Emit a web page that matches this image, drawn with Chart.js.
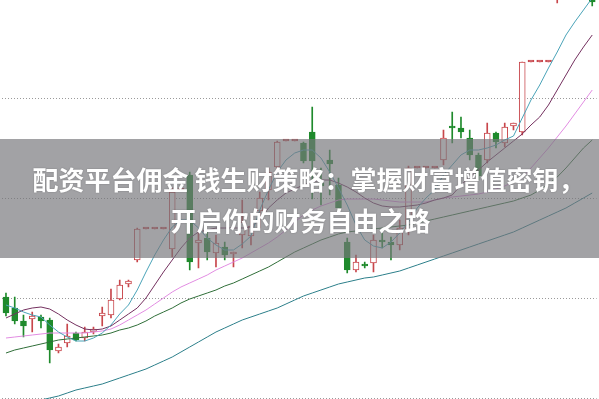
<!DOCTYPE html>
<html>
<head>
<meta charset="utf-8">
<script src="https://cdn.jsdelivr.net/npm/chart.js@4.4.1/dist/chart.umd.min.js"></script>
<style>
  html, body { margin: 0; padding: 0; background: #fff; }
  #wrap { position: relative; width: 599px; height: 399px; overflow: hidden; }
  #banner {
    position: absolute; left: 0; top: 139px; width: 599px; height: 119px;
    background: rgba(118, 118, 123, 0.68);
    color: #fff; font-family: "Noto Sans CJK SC", sans-serif; font-weight: bold;
    font-size: 26px; line-height: 41px; text-align: center;
    text-shadow: 0 0 2px rgba(0, 0, 0, 0.25);
  }
  #line1 { position: absolute; top: 19px; left: 9px; width: 599px; white-space: nowrap; }
  #line2 { position: absolute; top: 60px; left: 1px; width: 599px; white-space: nowrap; }
</style>
</head>
<body>
<div id="wrap">
  <canvas id="chart" width="599" height="399"></canvas>
  <div id="banner">
    <div id="line1">配资平台佣金 钱生财策略：掌握财富增值密钥，</div>
    <div id="line2">开启你的财务自由之路</div>
  </div>
</div>
<script>
// 68 trading days, prices
const days = Array.from({ length: 68 }, (_, i) => "D" + (i + 1));

const opens = [8.01, 7.90, 7.77, 7.79, 7.81, 7.78, 7.47, 7.55, 7.65, 7.60,
  7.66, 7.82, 7.83, 7.99, 8.14, 8.38, 8.69, 8.69, 8.69, 8.49,
  9.08, 9.23, 8.55, 8.60, 8.45, 8.51, 8.44, 8.63, 8.62, 8.87,
  9.08, 9.31, 9.57, 9.57, 9.55, 9.66, 9.15, 9.38, 9.13, 8.56,
  8.28, 8.34, 8.35, 8.58, 8.56, 8.53, 8.68, 9.30, 9.30, 9.30,
  9.38, 9.72, 9.70, 9.60, 9.43, 9.38, 9.65, 9.55, 9.72, 9.66,
  10.36, 10.36, 10.36, 11.00, 11.33, 11.58, 11.48, 11.73];
const closes = [7.85, 7.77, 7.72, 7.82, 7.77, 7.48, 7.51, 7.62, 7.58, 7.66,
  7.69, 7.85, 7.98, 8.13, 8.17, 8.69, 8.69, 8.69, 8.69, 9.06,
  9.08, 8.36, 8.58, 8.46, 8.55, 8.43, 8.45, 8.76, 8.72, 9.00,
  9.26, 9.56, 9.57, 9.57, 9.37, 9.37, 9.12, 9.34, 8.90, 8.28,
  8.36, 8.32, 8.58, 8.56, 8.53, 8.70, 9.30, 9.30, 9.30, 9.30,
  9.60, 9.70, 9.66, 9.43, 9.22, 9.65, 9.56, 9.71, 9.75, 10.36,
  10.36, 10.36, 10.36, 11.28, 11.58, 11.48, 11.78, 10.96];
const highs = [8.05, 8.01, 7.83, 7.86, 7.83, 7.80, 7.54, 7.74, 7.66, 7.71,
  7.71, 7.91, 8.09, 8.18, 8.18, 8.70, 8.69, 8.69, 8.69, 9.10,
  9.08, 9.26, 8.68, 8.66, 8.63, 8.56, 8.46, 8.98, 8.83, 9.06,
  9.30, 9.57, 9.57, 9.57, 9.56, 9.91, 9.30, 9.48, 9.20, 8.60,
  8.43, 8.36, 8.63, 8.65, 8.61, 8.78, 9.32, 9.30, 9.30, 9.30,
  9.68, 9.86, 9.81, 9.68, 9.45, 9.75, 9.66, 9.75, 9.75, 10.36,
  10.36, 10.36, 10.36, 11.33, 11.68, 11.78, 11.83, 11.88];
const lows = [7.82, 7.74, 7.61, 7.66, 7.70, 7.35, 7.45, 7.51, 7.57, 7.57,
  7.64, 7.72, 7.80, 7.98, 8.11, 8.36, 8.69, 8.69, 8.69, 8.41,
  9.08, 8.28, 8.30, 8.38, 8.31, 8.38, 8.31, 8.50, 8.53, 8.70,
  8.98, 9.28, 9.57, 9.57, 9.35, 8.99, 8.93, 9.03, 8.85, 8.25,
  8.26, 8.30, 8.26, 8.50, 8.38, 8.48, 8.63, 9.30, 9.30, 9.30,
  9.33, 9.55, 9.60, 9.38, 9.18, 9.35, 9.50, 9.51, 9.68, 9.63,
  10.36, 10.36, 10.36, 10.95, 11.28, 11.43, 11.43, 10.92];

const ma5 = [7.93, 7.90, 7.86, 7.83, 7.81, 7.73, 7.66, 7.61, 7.57, 7.57,
  7.60, 7.65, 7.73, 7.84, 7.93, 8.08, 8.26, 8.43, 8.58, 8.71,
  8.78, 8.78, 8.70, 8.60, 8.53, 8.48, 8.48, 8.54, 8.62, 8.88,
  9.08, 9.26, 9.38, 9.45, 9.48, 9.48, 9.40, 9.26, 9.10, 8.93,
  8.73, 8.58, 8.52, 8.50, 8.56, 8.65, 8.76, 8.90, 9.00, 9.08,
  9.23, 9.33, 9.43, 9.48, 9.48, 9.50, 9.53, 9.58, 9.62, 9.80,
  9.98, 10.13, 10.30, 10.46, 10.63, 10.76, 10.88, 11.00];
const ma10 = [7.80, 7.84, 7.88, 7.90, 7.91, 7.89, 7.84, 7.78, 7.73, 7.69,
  7.68, 7.69, 7.72, 7.78, 7.84, 7.90, 8.00, 8.13, 8.26, 8.38,
  8.50, 8.60, 8.66, 8.68, 8.70, 8.70, 8.70, 8.70, 8.71, 8.78,
  8.90, 8.98, 9.05, 9.09, 9.13, 9.16, 9.18, 9.18, 9.15, 9.11,
  9.06, 9.00, 8.95, 8.92, 8.91, 8.91, 8.92, 8.93, 8.95, 8.98,
  9.00, 9.03, 9.13, 9.21, 9.28, 9.36, 9.43, 9.50, 9.57, 9.64,
  9.73, 9.81, 9.93, 10.08, 10.23, 10.38, 10.51, 10.63];
const ma20 = [7.60, 7.61, 7.62, 7.63, 7.64, 7.65, 7.65, 7.65, 7.65, 7.65,
  7.66, 7.67, 7.69, 7.73, 7.78, 7.83, 7.88, 7.94, 8.00, 8.06,
  8.11, 8.15, 8.19, 8.23, 8.28, 8.32, 8.36, 8.40, 8.45, 8.50,
  8.55, 8.61, 8.68, 8.76, 8.83, 8.88, 8.92, 8.95, 8.98, 8.99,
  8.99, 8.99, 8.99, 8.98, 8.97, 8.96, 8.96, 8.96, 8.96, 8.98,
  9.00, 9.01, 9.02, 9.03, 9.04, 9.06, 9.09, 9.12, 9.16, 9.20,
  9.30, 9.40, 9.50, 9.61, 9.72, 9.84, 9.96, 10.08];
const ma30 = [7.45, 7.48, 7.50, 7.52, 7.54, 7.56, 7.58, 7.59, 7.60, 7.61,
  7.62, 7.63, 7.65, 7.68, 7.70, 7.73, 7.77, 7.82, 7.86, 7.90,
  7.95, 7.99, 8.02, 8.05, 8.08, 8.12, 8.15, 8.19, 8.23, 8.27,
  8.31, 8.36, 8.41, 8.46, 8.50, 8.54, 8.58, 8.61, 8.64, 8.66,
  8.67, 8.68, 8.69, 8.70, 8.71, 8.72, 8.73, 8.75, 8.77, 8.79,
  8.81, 8.83, 8.85, 8.87, 8.89, 8.91, 8.93, 8.95, 8.97, 9.00,
  9.03, 9.08, 9.14, 9.21, 9.30, 9.40, 9.50, 9.58];
const ma60 = [6.88, 6.91, 6.93, 6.96, 6.98, 7.00, 7.02, 7.05, 7.08, 7.10,
  7.12, 7.14, 7.17, 7.20, 7.23, 7.26, 7.29, 7.33, 7.37, 7.41,
  7.46, 7.51, 7.56, 7.61, 7.66, 7.70, 7.74, 7.78, 7.81, 7.84,
  7.87, 7.90, 7.94, 7.98, 8.02, 8.05, 8.08, 8.11, 8.14, 8.16,
  8.18, 8.20, 8.21, 8.23, 8.25, 8.27, 8.30, 8.33, 8.36, 8.39,
  8.42, 8.45, 8.48, 8.51, 8.54, 8.57, 8.60, 8.63, 8.66, 8.70,
  8.74, 8.78, 8.82, 8.86, 8.90, 8.95, 9.00, 9.05];

// dotted price levels
const priceLevels = [7, 8, 9, 10];

const RED = "#c8464b";
const GREEN = "#1f8a2c";

function isUp(i) { return closes[i] >= opens[i]; }
function isFlat(i) { return highs[i] === lows[i]; }

function maLine(data, color) {
  return {
    type: "line", data: data, borderColor: color, borderWidth: 1,
    pointRadius: 0, tension: 0, order: 0
  };
}

new Chart("chart", {
  type: "bar",
  data: {
    labels: days,
    datasets: [
      maLine(ma5, "#4aa3b8"),
      maLine(ma10, "#74305f"),
      maLine(ma20, "#e28ce2"),
      maLine(ma30, "#2f6e38"),
      maLine(ma60, "#2c7f8a"),
      {
        // candle bodies
        data: opens.map((o, i) => [o, closes[i]]),
        grouped: false, barThickness: 6, minBarLength: 2,
        borderWidth: 1, borderSkipped: false, order: 1,
        backgroundColor: ctx => isFlat(ctx.dataIndex) ? RED : (isUp(ctx.dataIndex) ? "#fff" : GREEN),
        borderColor: ctx => isUp(ctx.dataIndex) ? RED : GREEN
      },
      {
        // wicks
        data: lows.map((l, i) => [l, highs[i]]),
        grouped: false, barThickness: 1, borderWidth: 0, order: 2,
        backgroundColor: ctx => isUp(ctx.dataIndex) ? RED : GREEN
      }
    ]
  },
  options: {
    responsive: false,
    animation: false,
    layout: { padding: { left: 1.6, right: 2.4, top: 0, bottom: 0 } },
    plugins: { legend: { display: false }, tooltip: { enabled: false } },
    scales: {
      x: { display: false },
      y: {
        min: 6.99, max: 10.98,
        afterBuildTicks: scale => { scale.ticks = priceLevels.map(v => ({ value: v })); },
        ticks: { display: false },
        grid: { color: "#9a9a9a", drawTicks: false, lineWidth: 1 },
        border: { display: false, dash: [1, 2] }
      }
    }
  }
});
</script>
</body>
</html>
